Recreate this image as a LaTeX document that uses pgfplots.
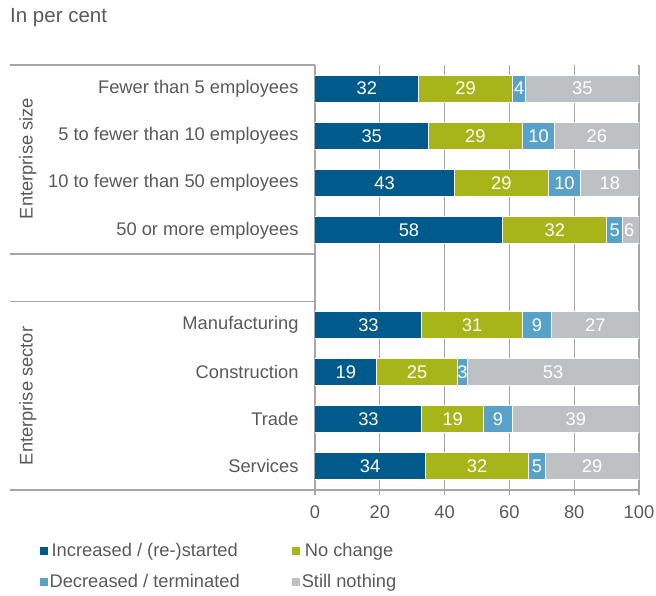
\documentclass[border=0pt]{standalone}
\usepackage{pgfplots}
\usepackage{pgfplotstable}
\pgfplotsset{compat=1.18}
\usepackage{fontspec}
\setmainfont{Liberation Sans}
\definecolor{cInc}{RGB}{0,91,140}
\definecolor{cNo}{RGB}{167,181,26}
\definecolor{cDec}{RGB}{88,162,202}
\definecolor{cStill}{RGB}{190,193,196}
\definecolor{axgray}{RGB}{166,166,166}
\definecolor{txt}{RGB}{89,89,89}
\newcommand{\fs}{\fontsize{18.3}{22}\selectfont}
\pgfplotstableread{
y inc no dec still
9 32 29 4 35
8 35 29 10 26
7 43 29 10 18
6 58 32 5 6
4 33 31 9 27
3 19 25 3 53
2 33 19 9 39
1 34 32 5 29
}\data
\pgfplotsset{
  geom/.style={
    at={(315pt,-490pt)}, anchor=south west,
    scale only axis, width=324pt, height=425pt,
    xmin=0, xmax=100, ymin=0.5, ymax=9.5,
    /pgf/number format/assume math mode=true,
  },
  lbl/.style={draw=none, mark=none, point meta=explicit, nodes near coords,
    nodes near coords align=center,
    every node near coord/.append style={anchor=center, text=white, font=\fs, inner sep=0pt}},
}
\begin{document}
\begin{tikzpicture}
\useasboundingbox (0pt,0pt) rectangle (656pt,-595pt);
\node[anchor=west, text=txt, font=\fontsize{20.5}{24}\selectfont, inner sep=0pt] at (10pt,-18pt) {In per cent};
\begin{axis}[
  geom,
  xbar stacked, bar width=27pt,
  xtick={0,20,...,100},
  ytick={1,2,3,4,6,7,8,9},
  yticklabels={Services,Trade,Construction,Manufacturing,50 or more employees,10 to fewer than 50 employees,5 to fewer than 10 employees,Fewer than 5 employees},
  axis x line*=bottom, axis y line*=left,
  axis line style={axgray, line width=1.2pt, -},
  xmajorgrids, grid style={axgray, line width=1.2pt},
  tick align=outside, major tick length=5pt,
  every tick/.style={axgray, line width=1.2pt},
  ytick style={draw=none},
  extra y ticks={1.5,2.5,3.5,6.5,7.5,8.5},
  extra y tick labels={},
  extra y tick style={major tick length=268pt, tick align=outside, draw=axgray, grid=none},
  minor ytick={0.5,4.5,5.5,9.5},
  minor tick length=305pt,
  minor y tick style={draw=axgray, line width=1.2pt},
  xticklabel style={font=\fs, text=txt, yshift=-7pt},
  yticklabel style={font=\fs, text=txt, xshift=-8pt},
  legend columns=2,
  legend style={at={(axis description cs:-0.86,-0.115)}, anchor=north west, draw=none, fill=none, font=\fs, text=txt, /tikz/every even column/.append style={column sep=50pt}, row sep=12pt},
  legend image code/.code={\fill[#1,draw=none] (0pt,-4.5pt) rectangle (8pt,3.5pt);},
]
\addplot[fill=cInc, draw=white, line width=1pt] table[x=inc, y=y] {\data};
\addlegendentry{Increased / (re-)started}
\addplot[fill=cNo, draw=white, line width=1pt] table[x=no, y=y] {\data};
\addlegendentry{No change}
\addplot[fill=cDec, draw=white, line width=1pt] table[x=dec, y=y] {\data};
\addlegendentry{Decreased / terminated}
\addplot[fill=cStill, draw=white, line width=1pt] table[x=still, y=y] {\data};
\addlegendentry{Still nothing}
\end{axis}
\begin{axis}[geom, hide axis, clip=false]
\addplot[lbl] table[x expr=\thisrow{inc}/2, y=y, meta=inc] {\data};
\addplot[lbl] table[x expr=\thisrow{inc}+\thisrow{no}/2, y=y, meta=no] {\data};
\addplot[lbl] table[x expr=\thisrow{inc}+\thisrow{no}+\thisrow{dec}/2, y=y, meta=dec] {\data};
\addplot[lbl] table[x expr=100-\thisrow{still}/2, y=y, meta=still] {\data};
\end{axis}
\node[rotate=90, text=txt, font=\fs] at (28pt,-158.5pt) {Enterprise size};
\node[rotate=90, text=txt, font=\fs] at (28pt,-396pt) {Enterprise sector};
\end{tikzpicture}
\end{document}
